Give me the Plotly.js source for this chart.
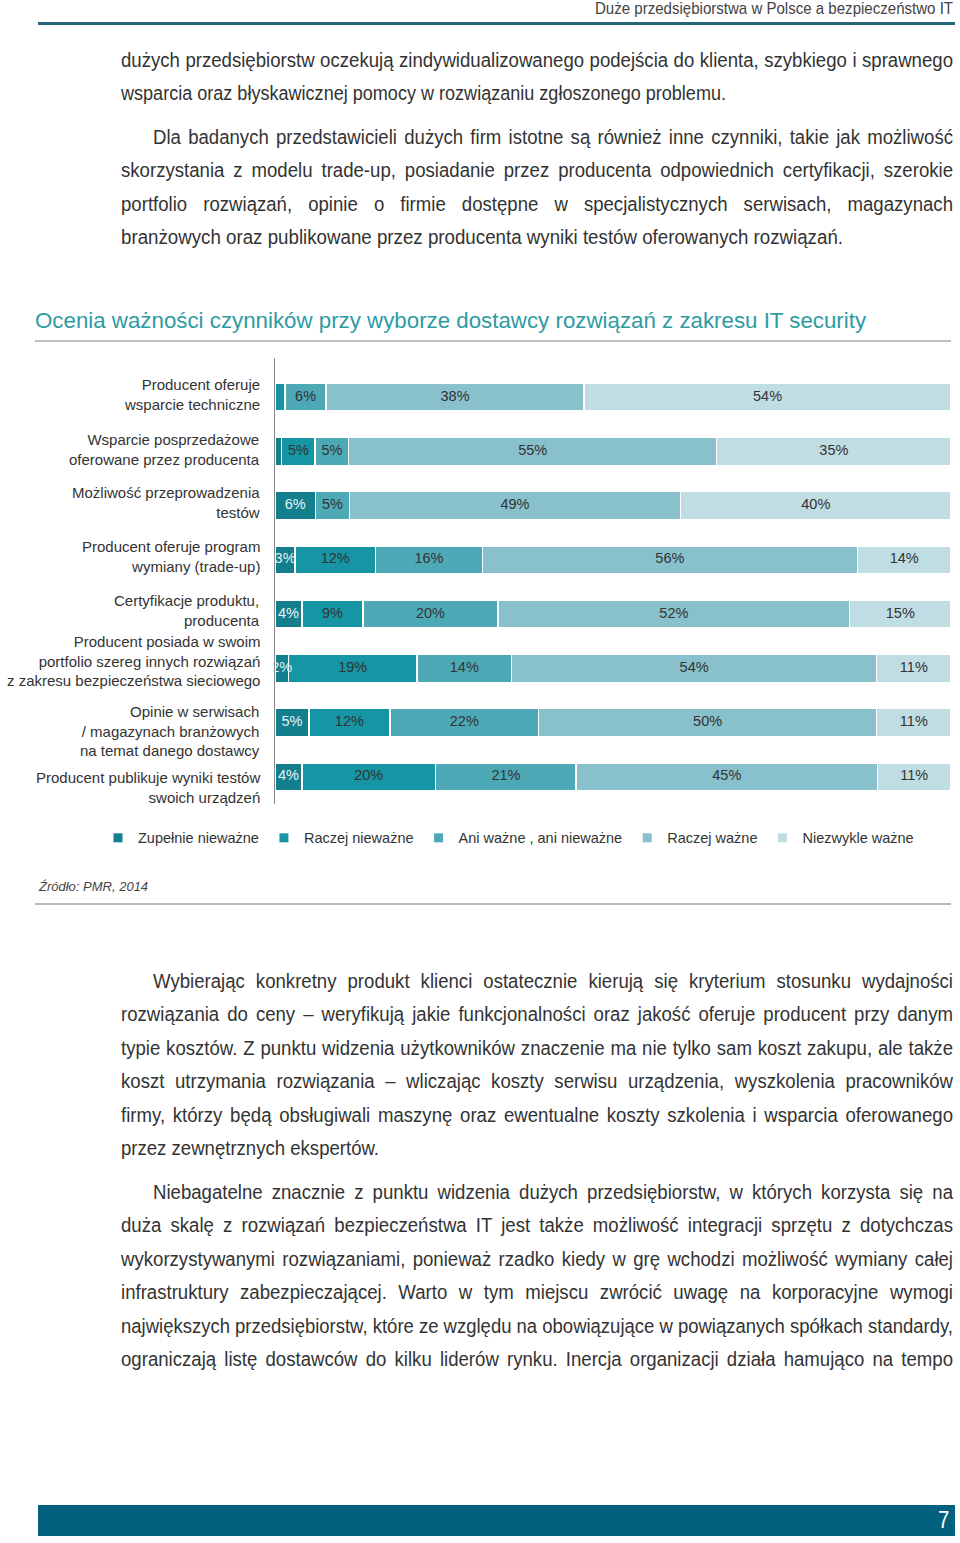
<!DOCTYPE html>
<html><head><meta charset="utf-8">
<script src="https://cdn.plot.ly/plotly-3.0.1.min.js"></script>
<style>
body{margin:0;background:#fff;}
#page{position:relative;width:960px;height:1543px;overflow:hidden;background:#fff;}
.ln{position:absolute;white-space:nowrap;color:#333;}
.ln span{display:inline-block;transform-origin:left center;white-space:nowrap;}
</style></head>
<body><div id="page">
<div style="position:absolute;left:38px;top:22px;width:917px;height:3px;background:#24657a;"></div>
<div id="chart" style="position:absolute;left:0;top:290px;width:960px;height:630px;"></div>
<div style="position:absolute;left:38px;top:1505px;width:917px;height:31px;background:#03607e;"></div>
</div>
<script>
// ---------- chart data ----------
const categories = [
  "Producent oferuje<br>wsparcie techniczne",
  "Wsparcie posprzedażowe<br>oferowane przez producenta",
  "Możliwość przeprowadzenia<br>testów",
  "Producent oferuje program<br>wymiany (trade-up)",
  "Certyfikacje produktu,<br>producenta",
  "Producent posiada w swoim<br>portfolio szereg innych rozwiązań<br>z zakresu bezpieczeństwa sieciowego",
  "Opinie w serwisach<br>/ magazynach branżowych<br>na temat danego dostawcy",
  "Producent publikuje wyniki testów<br>swoich urządzeń"
];
const seriesNames = ["Zupełnie nieważne", "Raczej nieważne", "Ani ważne , ani nieważne", "Raczej ważne", "Niezwykle ważne"];
const zupelnieNiewazne = [0, 1, 6, 3, 4, 2, 5, 4];
const raczejNiewazne   = [1.5, 5, 0, 12, 9, 19, 12, 20];
const aniWazneAniNie   = [6, 5, 5, 16, 20, 14, 22, 21];
const raczejWazne      = [38, 55, 49, 56, 52, 54, 50, 45];
const niezwykleWazne   = [54, 35, 40, 14, 15, 11, 11, 11];
const chartTitle = "Ocenia ważności czynników przy wyborze dostawcy rozwiązań z zakresu IT security";
const sourceText = "Źródło: PMR, 2014";

// ---------- page text ----------
const headerText = "Duże przedsiębiorstwa w Polsce a bezpieczeństwo IT";
const paragraphs = [
  {top: 60, indent: false, scale: 0.93, lastEnd: 726, lines: [
    "dużych przedsiębiorstw oczekują zindywidualizowanego podejścia do klienta, szybkiego i sprawnego",
    "wsparcia oraz błyskawicznej pomocy w rozwiązaniu zgłoszonego problemu."]},
  {top: 137, indent: true, scale: 0.93, lastEnd: 843, lines: [
    "Dla badanych przedstawicieli dużych firm istotne są również inne czynniki, takie jak możliwość",
    "skorzystania z modelu trade-up, posiadanie przez producenta odpowiednich certyfikacji, szerokie",
    "portfolio rozwiązań, opinie o firmie dostępne w specjalistycznych serwisach, magazynach",
    "branżowych oraz publikowane przez producenta wyniki testów oferowanych rozwiązań."]},
  {top: 981, indent: true, scale: 0.93, lastEnd: 379, lines: [
    "Wybierając konkretny produkt klienci ostatecznie kierują się kryterium stosunku wydajności",
    "rozwiązania do ceny – weryfikują jakie funkcjonalności oraz jakość oferuje producent przy danym",
    "typie kosztów. Z punktu widzenia użytkowników znaczenie ma nie tylko sam koszt zakupu, ale także",
    "koszt utrzymania rozwiązania – wliczając koszty serwisu urządzenia, wyszkolenia pracowników",
    "firmy, którzy będą obsługiwali maszynę oraz ewentualne koszty szkolenia i wsparcia oferowanego",
    "przez zewnętrznych ekspertów."]},
  {top: 1192, indent: true, scale: 0.93, lastEnd: null, lines: [
    "Niebagatelne znacznie z punktu widzenia dużych przedsiębiorstw, w których korzysta się na",
    "duża skalę z rozwiązań bezpieczeństwa IT jest także możliwość integracji sprzętu z dotychczas",
    "wykorzystywanymi rozwiązaniami, ponieważ rzadko kiedy w grę wchodzi możliwość wymiany całej",
    "infrastruktury zabezpieczającej. Warto w tym miejscu zwrócić uwagę na korporacyjne wymogi",
    "największych przedsiębiorstw, które ze względu na obowiązujące w powiązanych spółkach standardy,",
    "ograniczają listę dostawców do kilku liderów rynku. Inercja organizacji działa hamująco na tempo"]}
];
const pageNumber = "7";

// ---------- text layout ----------
const page = document.getElementById('page');
const bodyFam = "'Liberation Sans', Arial, sans-serif";

function addLine(text, left, cy, width, mode, size, color, scale){
  const lh = size*1.1;
  const d=document.createElement('div'); d.className='ln';
  d.style.left=left+'px'; d.style.top=(cy-lh/2)+'px';
  d.style.height=lh+'px'; d.style.lineHeight=lh+'px';
  d.style.fontSize=size+'px'; d.style.color=color||'#333';
  const sp=document.createElement('span'); sp.textContent=text; sp.style.fontFamily=bodyFam;
  d.appendChild(sp); page.appendChild(d);
  const w=sp.getBoundingClientRect().width;
  let s=scale;
  if(mode==='justify'){
    const n=(text.match(/ /g)||[]).length; const eff=w*s;
    if(eff<width && n){ sp.style.wordSpacing=((width-eff)/n/s)+'px'; }
    else s=width/w;
  } else if(mode==='fit'){ s=width/w; }
  else { if(w*s>width) s=width/w; }
  sp.style.transform='scaleX('+s+')';
}
addLine(headerText, 595, 9, 358, 'fit', 17, '#444', 1);
const LH = 33.4, LEFT = 121, RIGHT = 953, INDENT = 32;
paragraphs.forEach(p=>{
  p.lines.forEach((t,i)=>{
    const left = (i===0 && p.indent) ? LEFT+INDENT : LEFT;
    const last = i===p.lines.length-1;
    if(last && p.lastEnd){
      addLine(t, left, p.top + i*LH, p.lastEnd-left, 'fit', 20, '#333', p.scale);
    } else {
      addLine(t, left, p.top + i*LH, RIGHT-left, 'justify', 20, '#333', p.scale);
    }
  });
});
addLine(pageNumber, 938, 1520, 14, 'left', 24, '#ffffff', 0.85);

// ---------- chart ----------
const colors = ['#137f8d', '#1695a5', '#4ea9b7', '#88c0cb', '#bfdde3'];
const textColors = ['#e6f3f5', '#333333', '#333333', '#333333', '#333333'];
const allSeries = [zupelnieNiewazne, raczejNiewazne, aniWazneAniNie, raczejWazne, niezwykleWazne];
const chartFont = "'Liberation Sans', Arial, sans-serif";

const traces = allSeries.map((vals, k)=>({
  type:'bar', orientation:'h', name: seriesNames[k], legendgroup:'g'+k, showlegend:false,
  y: categories, x: vals,
  marker:{color:colors[k], line:{color:'#ffffff', width:1.5}},
  hoverinfo:'skip'
}));

// value labels drawn above all bars, at each segment's centre (normalised like barnorm)
const lblX=[], lblY=[], lblT=[], lblC=[];
categories.forEach((cat, i)=>{
  const total = allSeries.reduce((a,s)=>a+s[i],0);
  let cum = 0;
  allSeries.forEach((s,k)=>{
    const v = s[i];
    if(v >= 2){
      lblX.push((cum + v/2)/total*100); lblY.push(cat);
      lblT.push(Math.round(v)+'%'); lblC.push(textColors[k]);
    }
    cum += v;
  });
});
traces.push({type:'scatter', mode:'text', x:lblX, y:lblY, text:lblT,
  textposition:'middle center', textfont:{family:chartFont, size:14.5, color:lblC},
  showlegend:false, hoverinfo:'skip', cliponaxis:false});

// legend entries with small square keys
seriesNames.forEach((n,k)=>{
  traces.push({type:'scatter', mode:'markers', name:n, legendgroup:'g'+k, showlegend:true,
    x:[null], y:[null], marker:{symbol:'square', size:9, color:colors[k]}, hoverinfo:'skip'});
});

// category labels with the reference's small vertical offsets
const labelShift = [3, 2, 3, 3.5, 3.5, 7.5, -8.5, -11];
const catAnnotations = categories.map((c,i)=>({
  xref:'paper', yref:'y', x:0, y:c, xanchor:'right', yanchor:'middle', xshift:-13, yshift:labelShift[i],
  align:'right', text:c, showarrow:false, font:{family:chartFont, size:15, color:'#333'}
}));

const layout = {
  width:960, height:630,
  margin:{l:275, r:9, t:68, b:116},
  paper_bgcolor:'rgba(0,0,0,0)', plot_bgcolor:'rgba(0,0,0,0)',
  barmode:'stack', barnorm:'percent', bargap:0.485,
  font:{family:chartFont, size:14, color:'#333'},
  title:{text:chartTitle, x:35/960, xref:'container', xanchor:'left',
         y:1-30/630, yref:'container', yanchor:'middle',
         font:{family:chartFont, size:22.3, color:'#2e9ba3'}},
  xaxis:{range:[0,100], visible:false, fixedrange:true},
  yaxis:{type:'category', categoryorder:'array', categoryarray:categories,
         range:[7.5,-0.72], showline:true, linecolor:'#8a8a8a', linewidth:1.5,
         ticks:'', showticklabels:false, showgrid:false, zeroline:false, automargin:false},
  showlegend:true,
  legend:{orientation:'h', x:(98-275)/676, xanchor:'left', y:-0.076, yanchor:'middle',
          font:{family:chartFont, size:14.5, color:'#333'}, itemwidth:30,
          traceorder:'normal', bgcolor:'rgba(0,0,0,0)'},
  shapes:[
    {type:'line', xref:'paper', yref:'paper', x0:(35-275)/676, x1:1, y0:1.038, y1:1.038, line:{color:'#bdbdbd', width:2}},
    {type:'line', xref:'paper', yref:'paper', x0:(35-275)/676, x1:1, y0:-0.224, y1:-0.224, line:{color:'#b8b8b8', width:2}}
  ],
  annotations:[
    {xref:'paper', yref:'paper', x:(36-275)/676, xanchor:'left', y:-0.186, yanchor:'middle',
     text:'<i>'+sourceText+'</i>', showarrow:false, font:{family:chartFont, size:13, color:'#444'}}
  ].concat(catAnnotations)
};
Plotly.newPlot('chart', traces, layout, {staticPlot:true, displayModeBar:false});
</script>
</body></html>
